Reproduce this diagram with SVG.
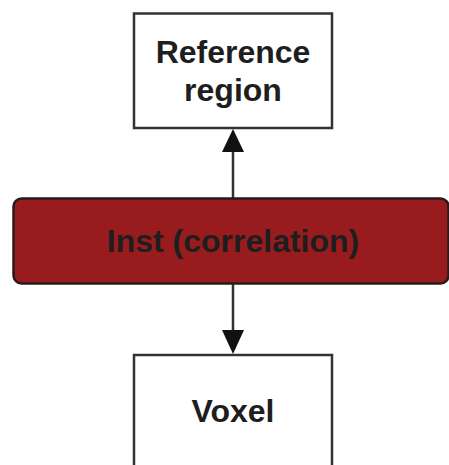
<svg xmlns="http://www.w3.org/2000/svg" width="449" height="465" viewBox="0 0 449 465">
<style>
.box{fill:#fff;stroke:#333;stroke-width:2.5}
.t{font-family:"Liberation Sans",Arial,sans-serif;font-weight:bold;font-size:32px;fill:#1e1e1e;text-anchor:middle}
.c{stroke:#333;stroke-width:2.5;fill:none}
</style>
<defs>
<marker id="ah" markerWidth="10" markerHeight="10" refX="10" refY="5" orient="auto" markerUnits="userSpaceOnUse" viewBox="0 0 10 10">
<path d="M0,0 L10,5 L0,10 Z" fill="#111"/>
</marker>
</defs>
<g id="connectors">
<line class="c" x1="233" y1="198" x2="233" y2="150"/>
<path d="M222,152 L233,129 L244,152 Z" fill="#111"/>
<line class="c" x1="233" y1="284" x2="233" y2="332"/>
<path d="M222,330 L233,354 L244,330 Z" fill="#111"/>
</g>
<g id="reference">
<rect class="box" x="134" y="13.5" width="198" height="114.5"/>
<text class="t" x="233" y="63">Reference</text>
<text class="t" x="233" y="101">region</text>
</g>
<g id="inst">
<rect x="13.5" y="198.5" width="435" height="85" rx="8" fill="#981b1e" stroke="#2a1a1a" stroke-width="2.5"/>
<text class="t" x="233" y="252" fill="#111">Inst (correlation)</text>
</g>
<g id="voxel">
<rect class="box" x="134" y="355" width="198" height="120"/>
<text class="t" x="233" y="422">Voxel</text>
</g>
</svg>
